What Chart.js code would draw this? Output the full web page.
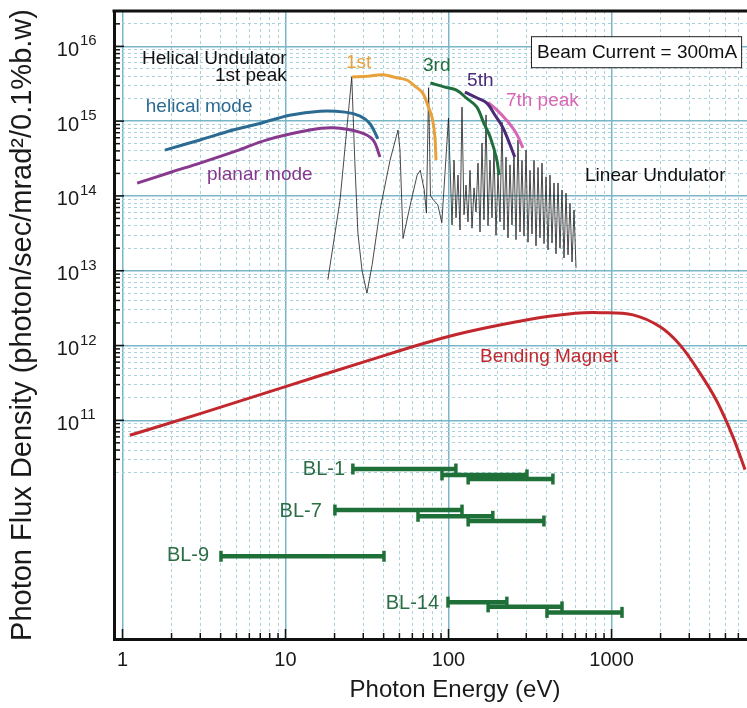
<!DOCTYPE html>
<html><head><meta charset="utf-8">
<script src="https://cdn.jsdelivr.net/npm/chart.js@4/dist/chart.umd.min.js"></script>
<style>html,body{margin:0;padding:0;background:#fff;}#wrap{width:747px;height:708px;position:relative;}canvas{display:block;}</style>
</head><body><div id="wrap"><canvas id="c" width="747" height="708" style="width:747px;height:708px"></canvas></div>
<script>
const FONT = '"Liberation Sans", Arial, Helvetica, sans-serif';

// ---- axis ranges & tick labels ----
const X_MIN = 0.887, X_MAX = 6780;
const Y_MIN = 1.19e8, Y_MAX = 2.97e16;
const xTickValues = [1, 10, 100, 1000];
const xTickLabels = ['1', '10', '100', '1000'];
const yTickExponents = [11, 12, 13, 14, 15, 16];
const xTitle = 'Photon Energy (eV)';
const yTitle = 'Photon Flux Density (photon/sec/mrad²/0.1%b.w)';

// ---- helical undulator, helical mode ----
const helicalE    = [1.82, 2.99, 4.77, 6.97, 10.6, 16.3, 23.2, 28.7, 32.9, 36.9];
const helicalFlux = [4.1e14, 5.6e14, 7.6e14, 9.3e14, 1.2e15, 1.36e15, 1.32e15, 1.17e15, 9.3e14, 5.8e14];

// ---- helical undulator, planar mode ----
const planarE    = [1.23, 2.0, 2.99, 5.0, 7.7, 14.1, 19.5, 28.7, 34.4, 38.0];
const planarFlux = [1.48e14, 2.09e14, 2.75e14, 4.0e14, 5.62e14, 7.59e14, 8.13e14, 7.08e14, 5.62e14, 3.31e14];

// ---- linear undulator peaks ----
const peak1E    = [25.5, 32, 39.5, 48, 55.5, 63, 69.6, 75, 79.3, 82.5, 83.8];
const peak1Flux = [3.89e15, 3.98e15, 4.17e15, 3.8e15, 3.55e15, 2.88e15, 2.37e15, 1.58e15, 1.12e15, 6.17e14, 3.02e14];
const peak3E    = [77.4, 95, 112, 130, 149, 165, 180, 198, 204];
const peak3Flux = [3.24e15, 2.85e15, 2.6e15, 2.0e15, 1.55e15, 9.3e14, 6.17e14, 3.02e14, 1.91e14];
const peak5E    = [126, 150, 172, 193, 215, 235, 255];
const peak5Flux = [2.45e15, 2.04e15, 1.74e15, 1.2e15, 8.3e14, 5.25e14, 3.31e14];
const peak7E    = [175, 200, 228, 250, 264, 286];
const peak7Flux = [1.78e15, 1.38e15, 1.02e15, 7.9e14, 6.5e14, 4.4e14];

// ---- linear undulator spectrum ----
const linearE = [18.2, 21.6, 25.5, 26.6, 27.8, 29.5, 31.6, 34.0, 38.0, 43.8, 49.0, 50.4, 52.6, 58.1, 64.2, 67.1, 71.0, 73.2, 75.5, 77.5, 80.6, 86, 91, 100,
  105.1, 108.1, 111.2, 114.4, 117.7, 121.0, 124.5, 128.1, 131.7, 135.5, 139.4, 143.4, 147.5, 151.7, 156.1, 160.5, 165.1, 169.9, 174.7, 179.7, 184.9, 190.1,
  195.6, 201.2, 207.0, 212.9, 219.0, 225.3, 231.7, 238.4, 245.2, 252.2, 259.5, 266.9, 274.6, 282.4, 290.5, 298.9, 307.4, 316.2, 325.3, 334.6,
  344.2, 354.1, 364.2, 374.7, 385.4, 396.5, 407.8, 419.5, 431.5, 443.9, 456.6, 469.7, 483.1, 497.0, 511.2, 525.9, 541.0, 556.5, 572.5, 588.9, 605.8];
const linearFlux = [7.6e12, 8.7e13, 3.9e15, 3.0e14, 3.2e13, 1.0e13, 5.0e12, 1.2e13, 6.5e13, 3.0e14, 7.6e14, 4.1e14, 2.7e13, 7.4e13, 1.9e14, 2.2e14, 1.2e14, 5.9e13, 2.8e15, 1.0e14, 8.9e13, 7.6e13, 4.4e13, 1.1e15,
  4.1e13, 3.0e14, 5.1e13, 1.9e14, 3.5e13, 1.54e15, 5.6e13, 1.4e14, 4.5e13, 2.2e14, 3.7e13, 1.28e14, 6.1e13, 2.75e14, 3.3e13, 5.1e14, 4.8e13, 1.21e15, 4.0e13, 3.0e14, 5.1e13, 4.1e14,
  3.0e13, 2.0e14, 4.5e13, 9.7e14, 3.5e13, 3.3e14, 2.75e13, 2.6e14, 4.1e13, 3.75e14, 2.6e13, 5.6e14, 3.3e13, 3.0e14, 2.9e13, 4.1e14, 2.4e13, 2.2e14, 3.1e13, 3.0e14,
  2.15e13, 2.4e14, 2.75e13, 2.75e14, 2.3e13, 1.8e14, 1.9e13, 1.9e14, 2.35e13, 1.49e14, 1.68e13, 1.49e14, 2.0e13, 1.2e14, 1.48e13, 1.09e14, 1.63e13, 8.0e13, 1.31e13, 6.5e13, 1.09e13];

// ---- bending magnet ----
const bendE    = [1.11, 3, 10, 30, 100, 300, 600, 850, 1355, 1986, 2630, 3490, 4440, 5560, 6590];
const bendFlux = [6.3e10, 1.23e11, 2.82e11, 6.0e11, 1.32e12, 2.19e12, 2.69e12, 2.75e12, 2.57e12, 1.78e12, 1.02e12, 4.27e11, 1.78e11, 6.0e10, 2.19e10];

// ---- beamline energy ranges ----
const beamlines  = ['BL-1', 'BL-7', 'BL-9', 'BL-14'];
const barLine    = [0, 0, 0, 1, 1, 1, 2, 3, 3, 3];
const barStartE  = [25.9, 91.2, 132, 20.1, 65, 132, 4.02, 99.3, 175, 402];
const barEndE    = [111, 303, 437, 121, 187, 385, 40.2, 228, 497, 1160];
const barLevel   = [2.23e10, 1.86e10, 1.64e10, 6.3e9, 5.2e9, 4.5e9, 1.52e9, 3.7e8, 3.2e8, 2.7e8];

// ---- colours ----
const BLUE = '#2b6a91', PURPLE = '#86398d', ORANGE = '#e9a23b', GREEN = '#1f6e3c',
      DPURPLE = '#4b2a78', PINK = '#d866b4', RED = '#c1272d', BLG = '#1f7038', BLTXT = '#2b6e45';
const GRID_MAJOR = '#79b6c7', GRID_MINOR = '#a9d2dd';

function isMajor(v) { const l = Math.log10(v); return Math.abs(l - Math.round(l)) < 1e-6; }
function logTicks(min, max) {
  const out = [];
  for (let e = Math.floor(Math.log10(min)); e <= Math.ceil(Math.log10(max)); e++) {
    for (let m = 1; m <= 9; m++) {
      const v = m * Math.pow(10, e);
      if (v >= min && v <= max) out.push({ value: v, major: m === 1 });
    }
  }
  return out;
}
const pts = (E, F) => E.map((e, i) => ({ x: e, y: F[i] }));
const curve = (label, E, F, color, width, order) => ({
  label, data: pts(E, F), borderColor: color, backgroundColor: color, borderWidth: width,
  pointRadius: 0, fill: false, tension: 0.35, order
});

const datasets = [
  curve('helical mode', helicalE, helicalFlux, BLUE, 3, 1),
  curve('planar mode', planarE, planarFlux, PURPLE, 3, 1),
  curve('1st', peak1E, peak1Flux, ORANGE, 3, 1),
  curve('3rd', peak3E, peak3Flux, GREEN, 3, 1),
  curve('5th', peak5E, peak5Flux, DPURPLE, 3, 1),
  curve('7th peak', peak7E, peak7Flux, PINK, 3, 1),
  curve('Bending Magnet', bendE, bendFlux, RED, 3, 1),
  { label: 'Linear Undulator', data: pts(linearE, linearFlux), borderColor: '#1a1a1a', borderWidth: 0.8,
    pointRadius: 0, fill: false, tension: 0, order: 5 }
];
barStartE.forEach((s, i) => {
  datasets.push({
    label: beamlines[barLine[i]], data: [{ x: s, y: barLevel[i] }, { x: barEndE[i], y: barLevel[i] }],
    borderColor: BLG, backgroundColor: BLG, borderWidth: 4.5, tension: 0,
    pointStyle: 'line', pointRotation: 90, pointRadius: 5.5, pointBorderWidth: 3.5,
    pointBorderColor: BLG, pointHoverRadius: 5.5, order: 2
  });
});

const notes = [
  { t: 'Helical Undulator', x: 1.317, y: 6.8e15, c: '#111', a: 'left' },
  { t: '1st peak', x: 3.69, y: 4.0e15, c: '#111', a: 'left' },
  { t: 'helical mode', x: 1.39, y: 1.54e15, c: BLUE, a: 'left' },
  { t: 'planar mode', x: 3.30, y: 1.9e14, c: PURPLE, a: 'left' },
  { t: '1st', x: 23.5, y: 6.0e15, c: ORANGE, a: 'left' },
  { t: '3rd', x: 69.8, y: 5.5e15, c: GREEN, a: 'left' },
  { t: '5th', x: 130, y: 3.5e15, c: DPURPLE, a: 'left' },
  { t: '7th peak', x: 225, y: 1.86e15, c: PINK, a: 'left' },
  { t: 'Linear Undulator', x: 688, y: 1.84e14, c: '#111', a: 'left' },
  { t: 'Bending Magnet', x: 156, y: 7.0e11, c: RED, a: 'left' },
  { t: beamlines[0], x: 23.2, y: 2.17e10, c: BLTXT, a: 'right', s: 20 },
  { t: beamlines[1], x: 16.7, y: 5.96e9, c: BLTXT, a: 'right', s: 20 },
  { t: beamlines[2], x: 3.40, y: 1.58e9, c: BLTXT, a: 'right', s: 20 },
  { t: beamlines[3], x: 87.5, y: 3.5e8, c: BLTXT, a: 'right', s: 20 }
];

const decor = {
  id: 'decor',
  afterDatasetsDraw(chart) {
    const { ctx, scales: { x, y } } = chart;
    ctx.save();
    ctx.textBaseline = 'middle';
    notes.forEach(n => {
      ctx.font = (n.s || 19) + 'px ' + FONT;
      ctx.fillStyle = n.c; ctx.textAlign = n.a;
      ctx.fillText(n.t, x.getPixelForValue(n.x), y.getPixelForValue(n.y));
    });
    // beam current box
    const bx = x.getPixelForValue(349), by = y.getPixelForValue(8.1e15);
    ctx.font = '19px ' + FONT; ctx.textAlign = 'left';
    const txt = 'Beam Current = 300mA';
    const w = ctx.measureText(txt).width;
    ctx.fillStyle = '#fff'; ctx.fillRect(bx - 5, by - 16, w + 10, 31);
    ctx.strokeStyle = '#222'; ctx.lineWidth = 1; ctx.strokeRect(bx - 5.5, by - 16.5, w + 10, 31);
    ctx.fillStyle = '#111'; ctx.fillText(txt, bx, by);
    ctx.restore();
  },
  afterDraw(chart) {
    const { ctx, chartArea: a, scales: { x, y } } = chart;
    ctx.save();
    ctx.strokeStyle = '#111'; ctx.lineWidth = 1.5;
    x.ticks.forEach(t => {
      const px = x.getPixelForValue(t.value), L = isMajor(t.value) ? 10 : 6;
      ctx.beginPath(); ctx.moveTo(px, a.bottom); ctx.lineTo(px, a.bottom - L); ctx.stroke();
    });
    y.ticks.forEach(t => {
      if (t.value < 2.9e10) return;
      const py = y.getPixelForValue(t.value), L = isMajor(t.value) ? 10 : 6;
      ctx.beginPath(); ctx.moveTo(a.left, py); ctx.lineTo(a.left + L, py); ctx.stroke();
    });
    ctx.lineWidth = 3; ctx.strokeStyle = '#111';
    ctx.beginPath(); ctx.moveTo(a.left - 1.5, a.top); ctx.lineTo(a.right, a.top); ctx.stroke();
    // y tick labels 10^n
    ctx.fillStyle = '#1a1a1a';
    yTickExponents.forEach(e => {
      const py = y.getPixelForValue(Math.pow(10, e));
      ctx.font = '20px ' + FONT; ctx.textAlign = 'right'; ctx.textBaseline = 'middle';
      ctx.fillText('10', 79, py + 4);
      ctx.font = '15px ' + FONT; ctx.textAlign = 'left';
      ctx.fillText(String(e), 80, py - 5);
    });
    // x axis title
    ctx.font = '24px ' + FONT; ctx.textAlign = 'center'; ctx.textBaseline = 'middle';
    ctx.fillText(xTitle, 455, 690);
    ctx.restore();
  }
};

const gridColor = (c, cut) => {
  if (!c.tick) return GRID_MAJOR;
  if (cut && c.tick.value < cut) return 'rgba(0,0,0,0)';
  return isMajor(c.tick.value) ? GRID_MAJOR : GRID_MINOR;
};
const gridWidth = c => (c.tick && isMajor(c.tick.value)) ? 1.5 : 1;
const gridDash = c => (c.tick && !isMajor(c.tick.value)) ? [3, 3] : [];

new Chart(document.getElementById('c'), {
  type: 'line',
  data: { datasets },
  options: {
    responsive: false, animation: false, maintainAspectRatio: false,
    layout: { autoPadding: false, padding: { top: 11, left: 0, right: 0, bottom: 0 } },
    plugins: { legend: { display: false }, tooltip: { enabled: false } },
    scales: {
      x: {
        type: 'logarithmic', min: X_MIN, max: X_MAX, bounds: 'data',
        afterBuildTicks: s => { s.ticks = logTicks(X_MIN, X_MAX); },
        afterFit: s => { s.height = 69; s.paddingLeft = 0; s.paddingRight = 0; },
        ticks: {
          autoSkip: false, maxRotation: 0, minRotation: 0, padding: 0, color: '#1a1a1a',
          font: { family: FONT, size: 20 },
          callback: v => { const i = xTickValues.findIndex(t => Math.abs(t - v) < 1e-6 * t); return i >= 0 ? xTickLabels[i] : ''; }
        },
        grid: { drawTicks: true, tickLength: 9, tickColor: 'rgba(0,0,0,0)', color: c => gridColor(c, 0), lineWidth: gridWidth },
        border: { display: true, color: '#111', width: 3, dash: gridDash },
        title: { display: false, text: xTitle }
      },
      y: {
        type: 'logarithmic', min: Y_MIN, max: Y_MAX, bounds: 'data',
        afterBuildTicks: s => { s.ticks = logTicks(Y_MIN, Y_MAX); },
        afterFit: s => { s.width = 114; s.paddingTop = 0; s.paddingBottom = 0; },
        ticks: { display: false },
        grid: { drawTicks: false, color: c => gridColor(c, 1.9e10), lineWidth: gridWidth },
        border: { display: true, color: '#111', width: 3, dash: gridDash },
        title: { display: true, text: yTitle, color: '#1a1a1a', font: { family: FONT, size: 29 }, padding: { top: 6, bottom: 0 } }
      }
    }
  },
  plugins: [decor]
});
</script>
</body></html>
